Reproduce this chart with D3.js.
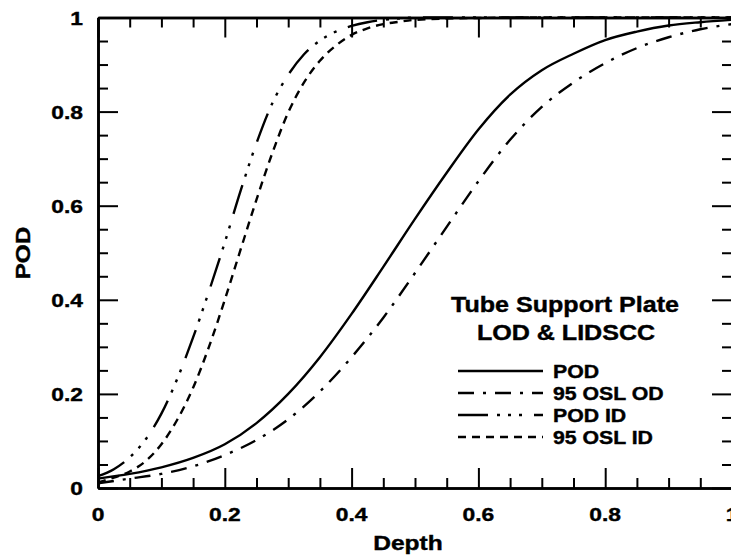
<!DOCTYPE html>
<html>
<head>
<meta charset="utf-8">
<script src="https://cdn.jsdelivr.net/npm/d3@7"></script>
<style>
  html, body { margin: 0; padding: 0; background: #fff; }
  svg { display: block; }
  text { font-family: "Liberation Sans", Arial, Helvetica, sans-serif; font-weight: bold; fill: #000;
         stroke: #000; stroke-width: 0.4; }
</style>
</head>
<body>
<svg id="chart" width="731" height="556"></svg>
<script>
// Depth grids
const depthOD = [0, 0.05, 0.1, 0.15, 0.2, 0.25, 0.3, 0.35, 0.4, 0.45, 0.5,
                 0.55, 0.6, 0.65, 0.7, 0.75, 0.8, 0.85, 0.9, 0.95, 1.0];
const depthID = [0, 0.025, 0.05, 0.075, 0.1, 0.125, 0.15, 0.175, 0.2, 0.225, 0.25,
                 0.275, 0.3, 0.325, 0.35, 0.375, 0.4, 0.425, 0.45, 0.475, 0.5,
                 0.6, 0.7, 0.8, 0.9, 1.0];

// Probability of detection, outer-diameter indications
const podOD = [0.02, 0.03, 0.044, 0.064, 0.093, 0.138, 0.2, 0.278, 0.37, 0.47, 0.572,
               0.67, 0.762, 0.836, 0.888, 0.923, 0.952, 0.97, 0.983, 0.99, 0.995];
const osl95OD = [0.01, 0.02, 0.03, 0.046, 0.07, 0.102, 0.146, 0.205, 0.278, 0.362, 0.457,
                 0.555, 0.652, 0.74, 0.81, 0.862, 0.903, 0.935, 0.958, 0.975, 0.986];

// Probability of detection, inner-diameter indications
const podID = [0.025, 0.04, 0.065, 0.103, 0.158, 0.232, 0.32, 0.418, 0.522, 0.632, 0.733,
               0.818, 0.878, 0.922, 0.951, 0.97, 0.982, 0.99, 0.995, 0.998, 1.0,
               1.0, 1.0, 1.0, 1.0, 1.0];
const osl95ID = [0.012, 0.022, 0.035, 0.057, 0.093, 0.145, 0.213, 0.3, 0.4, 0.507, 0.613,
                 0.712, 0.798, 0.862, 0.908, 0.94, 0.963, 0.977, 0.986, 0.991, 0.995,
                 0.999, 1.0, 1.0, 1.0, 1.0];

const seriesNames = ["POD", "95 OSL OD", "POD ID", "95 OSL ID"];
const xTickValues = [0, 0.2, 0.4, 0.6, 0.8, 1];
const xTickLabels = ["0", "0.2", "0.4", "0.6", "0.8", "1"];
const yTickValues = [0, 0.2, 0.4, 0.6, 0.8, 1];
const yTickLabels = ["0", "0.2", "0.4", "0.6", "0.8", "1"];
const titleLines = ["Tube Support Plate", "LOD & LIDSCC"];

const series = [
  { name: seriesNames[0], x: depthOD, y: podOD,   dash: null },
  { name: seriesNames[1], x: depthOD, y: osl95OD, dash: "16,9,3,9" },
  { name: seriesNames[2], x: depthID, y: podID,   dash: "30,9,3,8,3,8,3,12" },
  { name: seriesNames[3], x: depthID, y: osl95ID, dash: "8,6" }
];

const svg = d3.select("#chart");
const plotLeft = 98, plotRight = 732, plotTop = 17.5, plotBottom = 488;

const x = d3.scaleLinear().domain([0, 1]).range([plotLeft, plotRight]);
const y = d3.scaleLinear().domain([0, 1]).range([plotBottom, plotTop]);

// text with a slight horizontal stretch
function label(str, px, py, size, sx, anchor, rot) {
  const t = `translate(${px},${py})` + (rot ? ` rotate(${rot})` : "") + ` scale(${sx},1)`;
  return svg.append("text")
    .attr("transform", t)
    .attr("text-anchor", anchor)
    .attr("font-size", size)
    .text(str);
}

// Curves
const line = d3.line()
  .x(d => x(d[0]))
  .y(d => y(d[1]))
  .curve(d3.curveMonotoneX);

series.forEach(s => {
  const pts = s.x.map((v, i) => [v, s.y[i]]);
  svg.append("path")
    .datum(pts)
    .attr("d", line)
    .attr("fill", "none")
    .attr("stroke", "#000")
    .attr("stroke-width", 2.4)
    .attr("stroke-dasharray", s.dash);
});

// Frame with inward ticks
const minorX = d3.range(0, 1.0001, 0.05).filter(v => Math.abs(v * 5 - Math.round(v * 5)) > 1e-6);
const minorY = minorX;

function styleAxis(g, w) {
  g.selectAll("path.domain").attr("stroke", "#000").attr("stroke-width", w);
  g.selectAll(".tick line").attr("stroke", "#000").attr("stroke-width", 2);
  g.selectAll(".tick text").remove();
}

const axes = [
  [d3.axisBottom(x), `translate(0,${plotBottom})`, xTickValues, minorX],
  [d3.axisTop(x), `translate(0,${plotTop})`, xTickValues, minorX],
  [d3.axisLeft(y), `translate(${plotLeft},0)`, yTickValues, minorY],
  [d3.axisRight(y), `translate(${plotRight},0)`, yTickValues, minorY]
];
axes.forEach(([ax, tr, major, minor]) => {
  const gMinor = svg.append("g").attr("transform", tr)
    .call(ax.tickValues(minor).tickSize(-10).tickSizeOuter(0));
  styleAxis(gMinor, 2.6);
  const gMajor = svg.append("g").attr("transform", tr)
    .call(ax.tickValues(major).tickSize(-20).tickSizeOuter(0));
  styleAxis(gMajor, 2.6);
});

// Tick labels
xTickValues.forEach((v, i) => label(xTickLabels[i], x(v), 521, 19, 1.2, "middle"));
yTickValues.forEach((v, i) => label(yTickLabels[i], 83, y(v) + 7, 19, 1.2, "end"));

// Axis titles
label("Depth", 408, 550, 21, 1.17, "middle");
label("POD", 30, 253, 21, 1.16, "middle", -90);

// Legend title
label(titleLines[0], 565, 312, 22, 1.14, "middle");
label(titleLines[1], 566, 340, 22, 1.14, "middle");

// Legend entries
const rowY = d3.scalePoint().domain(seriesNames).range([371, 437]);
series.forEach(s => {
  const ry = rowY(s.name);
  svg.append("line")
    .attr("x1", 458).attr("x2", 543)
    .attr("y1", ry).attr("y2", ry)
    .attr("stroke", "#000")
    .attr("stroke-width", 2.4)
    .attr("stroke-dasharray", s.dash);
  label(s.name, 553, ry + 6.5, 18, 1.18, "start");
});
</script>
</body>
</html>
